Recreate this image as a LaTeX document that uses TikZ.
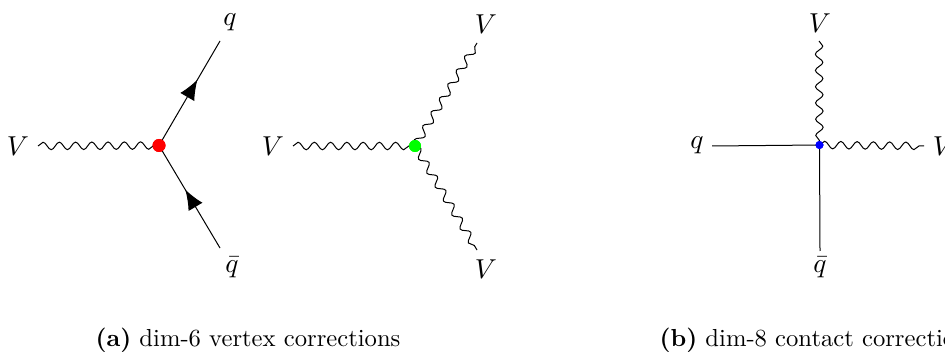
\documentclass[tikz,border=0pt]{standalone}
\usetikzlibrary{decorations.pathmorphing,decorations.markings,arrows.meta}
\begin{document}
\begin{tikzpicture}[x=0.4pt,y=-0.4pt,
  wave/.style={decorate,decoration={snake,segment length=6.5pt,amplitude=1.5pt},line width=0.4pt},
  plain/.style={line width=0.4pt},
  fermion/.style={plain,postaction={decorate,decoration={markings,mark=at position #1 with {\arrow{Latex[length=8pt,width=6.5pt]}}}}},
  vertexdot/.style={circle,inner sep=0pt,minimum size=#1,draw=none},
  lab/.style={inner sep=0pt,font=\fontsize{11}{14}\selectfont},
  captext/.style={inner sep=0pt,anchor=base west,font=\fontsize{9.85}{12}\selectfont}]
\useasboundingbox (0,0) rectangle (945,352);
% diagram a, left
\coordinate (a1) at (38,146);
\coordinate (a2) at (220,41);
\coordinate (a3) at (220,248);
\node[vertexdot=5.2pt,fill=red] (av) at (159,145.5) {};
\draw[wave] (a1) -- (av.center);
\draw[fermion=0.63] (av.center) -- (a2);
\draw[fermion=0.57] (a3) -- (av.center);
\node[vertexdot=5.2pt,fill=red] at (av) {};
\node[lab] (lV1) at (18,146) {$V$};
\node[lab] (lq1) at (230,22) {$q$};
\node[lab] (lqb1) at (232,267) {$\bar q$};
% diagram a, right
\coordinate (b1) at (293,146);
\coordinate (b2) at (477,43);
\coordinate (b3) at (477,250);
\node[vertexdot=4.8pt,fill=green] (bv) at (415,146) {};
\draw[wave] (b1) -- (bv.center);
\draw[wave] (bv.center) -- (b2);
\draw[wave] (bv.center) -- (b3);
\node[vertexdot=4.8pt,fill=green] at (bv) {};
\node[lab] (lV2) at (273,146) {$V$};
\node[lab] (lV3) at (486,24) {$V$};
\node[lab] (lV4) at (486,269) {$V$};
% diagram b
\coordinate (c1) at (712,146);
\coordinate (c2) at (819,41);
\coordinate (c3) at (924,146);
\coordinate (c4) at (820,251);
\node[vertexdot=3.2pt,fill=blue] (cv) at (819.5,145) {};
\draw[plain] (c1) -- (cv.center);
\draw[plain] (c4) -- (cv.center);
\draw[wave] (c2) -- (cv.center);
\draw[wave] (cv.center) -- (c3);
\node[vertexdot=3.2pt,fill=blue] at (cv) {};
\node[lab] (lq2) at (697,145) {$q$};
\node[lab] (lV5) at (820,23) {$V$};
\node[lab] (lV6) at (944,146) {$V$};
\node[lab] (lqb2) at (820,267) {$\bar q$};
% captions
\node[captext] (capa) at (95,346) {\textbf{(a)} dim-6 vertex corrections};
\node[captext] (capb) at (659,346) {\textbf{(b)} dim-8 contact corrections};
\end{tikzpicture}
\end{document}
